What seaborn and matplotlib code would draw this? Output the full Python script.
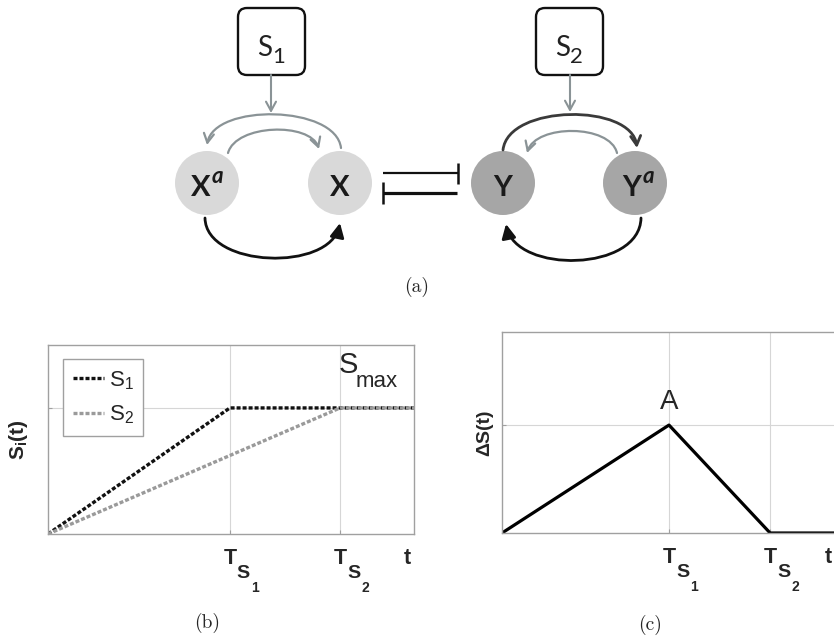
import matplotlib
matplotlib.use("Agg")
import matplotlib.pyplot as plt
from matplotlib import font_manager as fm
from matplotlib.patches import Circle, FancyBboxPatch, FancyArrowPatch
from matplotlib.path import Path
from matplotlib.lines import Line2D
import pandas as pd
import seaborn as sns

# ---- signal profiles (normalised time / amplitude) ----
t_s1 = 0.497          # end of the S1 ramp
t_s2 = 0.798          # end of the S2 ramp
t_end = 1.0
t_mark_b = 0.983      # position of the "t" axis mark in (b)
t_mark_c = 0.970      # position of the "t" axis mark in (c)
s_max = 0.667         # plateau level S_max
peak_a = 0.537        # peak A of the difference signal

s1_time = [0.0, t_s1, t_end]
s1_value = [0.0, s_max, s_max]
s2_time = [0.0, t_s2, t_end]
s2_value = [0.0, s_max, s_max]
ds_time = [0.0, t_s1, t_s2, t_end]
ds_value = [0.0, peak_a, 0.0, 0.0]

x_tick_text = ["T", "T", "t"]
sub_digits = ["1", "2"]

sns.set_theme(style="white")
plt.rcParams["font.family"] = ["Liberation Sans", "DejaVu Sans"]
plt.rcParams["mathtext.default"] = "regular"

installed = {f.name for f in fm.fontManager.ttflist}
narrow = "Liberation Sans Narrow" if "Liberation Sans Narrow" in installed else "Liberation Sans"
diag_font = "Lato" if "Lato" in installed else "DejaVu Sans"

W, H = 834, 637
fig = plt.figure(figsize=(W / 100, H / 100), dpi=100)

# ---------------- (a) network diagram, in pixel units ----------------
axd = fig.add_axes([0, 0, 1, 1])
axd.set_xlim(0, W)
axd.set_ylim(H, 0)
axd.axis("off")

grey = "#8a9396"


def curve(p0, c1, c2, p1, color, lw, style):
    path = Path([p0, c1, c2, p1],
                [Path.MOVETO, Path.CURVE4, Path.CURVE4, Path.CURVE4])
    axd.add_patch(FancyArrowPatch(path=path, arrowstyle=style, color=color,
                                  lw=lw, mutation_scale=12, zorder=3))


def straight(p0, p1, color, lw, style):
    axd.add_patch(FancyArrowPatch(p0, p1, arrowstyle=style, color=color, lw=lw,
                                  mutation_scale=12, shrinkA=0, shrinkB=0, zorder=3))


# signal boxes
for x0, digit in [(238, "1"), (536, "2")]:
    axd.add_patch(FancyBboxPatch((x0, 8), 67, 67,
                                 boxstyle="round,pad=0,rounding_size=9",
                                 fc="white", ec="#111111", lw=1.7, zorder=3))
    axd.text(x0 + 19, 56, "S", fontsize=20, family=diag_font, ha="left",
             va="baseline", color="#222222", zorder=4)
    axd.text(x0 + 34, 63, digit, fontsize=16, family=diag_font, ha="left",
             va="baseline", color="#222222", zorder=4)

head_open = "->,head_length=0.55,head_width=0.3"
head_fill = "-|>,head_length=0.7,head_width=0.35"

# inputs from the boxes
straight((271, 75), (271, 113), grey, 1.5, head_open)
straight((570, 75), (570, 112), grey, 1.5, head_open)

# left module arcs
curve((341, 148), (336, 105), (214, 103), (207, 145), grey, 1.6, head_open)
curve((228, 153), (236, 124), (310, 122), (319, 149), grey, 1.6, head_open)
curve((205, 218), (206, 268), (330, 272), (340, 223), "#111111", 2.0, head_fill)

# right module arcs
curve((503, 150), (508, 104), (632, 103), (637, 148), "#3a3a3a", 2.0, head_open)
curve((617, 153), (610, 124), (536, 124), (527, 153), grey, 1.6, head_open)
curve((641, 218), (640, 272), (516, 274), (506, 224), "#111111", 2.0, head_fill)

# nodes
for cx, col in [(207, "#d9d9d9"), (340, "#d9d9d9"), (503, "#a6a6a6"), (635, "#a6a6a6")]:
    axd.add_patch(Circle((cx, 183), 32, fc=col, ec="none", zorder=2))

node_kw = dict(fontsize=21, family=diag_font, fontweight="bold", color="#1a1a1a",
               va="baseline", ha="center", zorder=4)
axd.text(201, 196, "X", **node_kw)
axd.text(340, 196, "X", **node_kw)
axd.text(503, 196, "Y", **node_kw)
axd.text(632, 196, "Y", **node_kw)
sup_kw = dict(fontsize=16, family=diag_font, fontstyle="italic", fontweight="bold",
              color="#1a1a1a", va="baseline", ha="left", zorder=4)
axd.text(212, 183, "a", **sup_kw)
axd.text(643, 183, "a", **sup_kw)

# mutual inhibition
axd.plot([383, 458], [173, 173], color="#111111", lw=1.6, solid_capstyle="butt")
axd.plot([458, 458], [163, 184], color="#111111", lw=1.8, solid_capstyle="butt")
axd.plot([383, 457], [193, 193], color="#111111", lw=2.3, solid_capstyle="butt")
axd.plot([383, 383], [182, 204], color="#111111", lw=1.8, solid_capstyle="butt")

# ---------------- (b) and (c) time courses ----------------
axb = fig.add_axes([48 / W, 1 - 534 / H, 366 / W, 189 / H])
axc = fig.add_axes([502 / W, 1 - 533 / H, 336 / W, 201 / H])

df_b = pd.DataFrame({
    "t": s1_time + s2_time,
    "S": s1_value + s2_value,
    "signal": ["S1"] * len(s1_time) + ["S2"] * len(s2_time),
})
colors = {"S1": "#111111", "S2": "#9a9a9a"}
sns.lineplot(data=df_b, x="t", y="S", hue="signal", style="signal",
             palette=colors, dashes={"S1": (1.2, 0.6), "S2": (1.2, 0.6)},
             linewidth=2.4, sort=False, estimator=None, legend=False, ax=axb)

df_c = pd.DataFrame({"t": ds_time, "dS": ds_value})
sns.lineplot(data=df_c, x="t", y="dS", color="#000000", linewidth=2.3,
             sort=False, estimator=None, ax=axc)

for ax, t_mark in ((axb, t_mark_b), (axc, t_mark_c)):
    ax.set_xlim(0, 1)
    ax.set_ylim(0, 1)
    ax.set_xlabel("")
    for sp in ax.spines.values():
        sp.set_visible(True)
        sp.set_color("#a0a0a0")
        sp.set_linewidth(1.0)
    ax.grid(True, color="#d6d6d6", linewidth=0.8)
    ax.tick_params(direction="in", length=3, width=0.8, color="#a0a0a0",
                   labelsize=15.5, pad=10, left=True, bottom=True)
    tick_pos = [t_s1, t_s2, t_mark]
    ax.set_xticks(tick_pos)
    ax.set_xticklabels(x_tick_text, fontweight="bold")
    last = ax.xaxis.get_major_ticks()[2]
    last.gridline.set_visible(False)
    last.tick1line.set_visible(False)
    # subscripts S_1, S_2 under the T marks
    for xpos, digit in zip(tick_pos[:2], sub_digits):
        ax.annotate("S", xy=(xpos, 0), xycoords=("data", "axes fraction"),
                    xytext=(5, -32), textcoords="offset points",
                    fontsize=14, fontweight="bold", ha="left", va="baseline",
                    annotation_clip=False)
        ax.annotate(digit, xy=(xpos, 0), xycoords=("data", "axes fraction"),
                    xytext=(15.5, -41.5), textcoords="offset points",
                    fontsize=10, fontweight="bold", ha="left", va="baseline",
                    annotation_clip=False)

axb.set_yticks([s_max])
axb.set_yticklabels([])
axc.set_yticks([peak_a])
axc.set_yticklabels([])

axb.set_ylabel("$S_i(t)$", fontsize=15, fontweight="bold")
axb.yaxis.set_label_coords(-0.048, 0.5)
axc.set_ylabel("ΔS(t)", fontsize=14, fontweight="bold")
axc.yaxis.set_label_coords(-0.027, 0.5)

# S_max label next to the plateau
axb.annotate("S", xy=(t_s2, s_max), xytext=(-1, 25), textcoords="offset points",
             fontsize=21, ha="left", va="baseline")
axb.annotate("max", xy=(t_s2, s_max), xytext=(11.5, 15), textcoords="offset points",
             fontsize=16, ha="left", va="baseline")

# peak label
axc.annotate("A", xy=(t_s1, peak_a), xytext=(0, 11.5), textcoords="offset points",
             fontsize=20, family=narrow, ha="center", va="baseline")

handles = [Line2D([], [], color=colors["S1"], lw=2.4, dashes=(1.2, 0.6)),
           Line2D([], [], color=colors["S2"], lw=2.4, dashes=(1.2, 0.6))]
leg = axb.legend(handles, ["$S_1$", "$S_2$"], loc="upper left",
                 bbox_to_anchor=(0.041, 0.926), borderaxespad=0, fontsize=16,
                 handlelength=1.4, handletextpad=0.2, labelspacing=0.55,
                 borderpad=0.45, fancybox=False, framealpha=1)
leg.get_frame().set_edgecolor("#a0a0a0")
leg.get_frame().set_linewidth(1.0)

# panel captions
for xc, yc, lab in [(417, 287, "(a)"), (207, 623, "(b)"), (650, 625, "(c)")]:
    fig.text(xc / W, 1 - yc / H, lab, family="cmr10", fontsize=14,
             ha="center", va="center")

fig.savefig("out.png", dpi=100)
